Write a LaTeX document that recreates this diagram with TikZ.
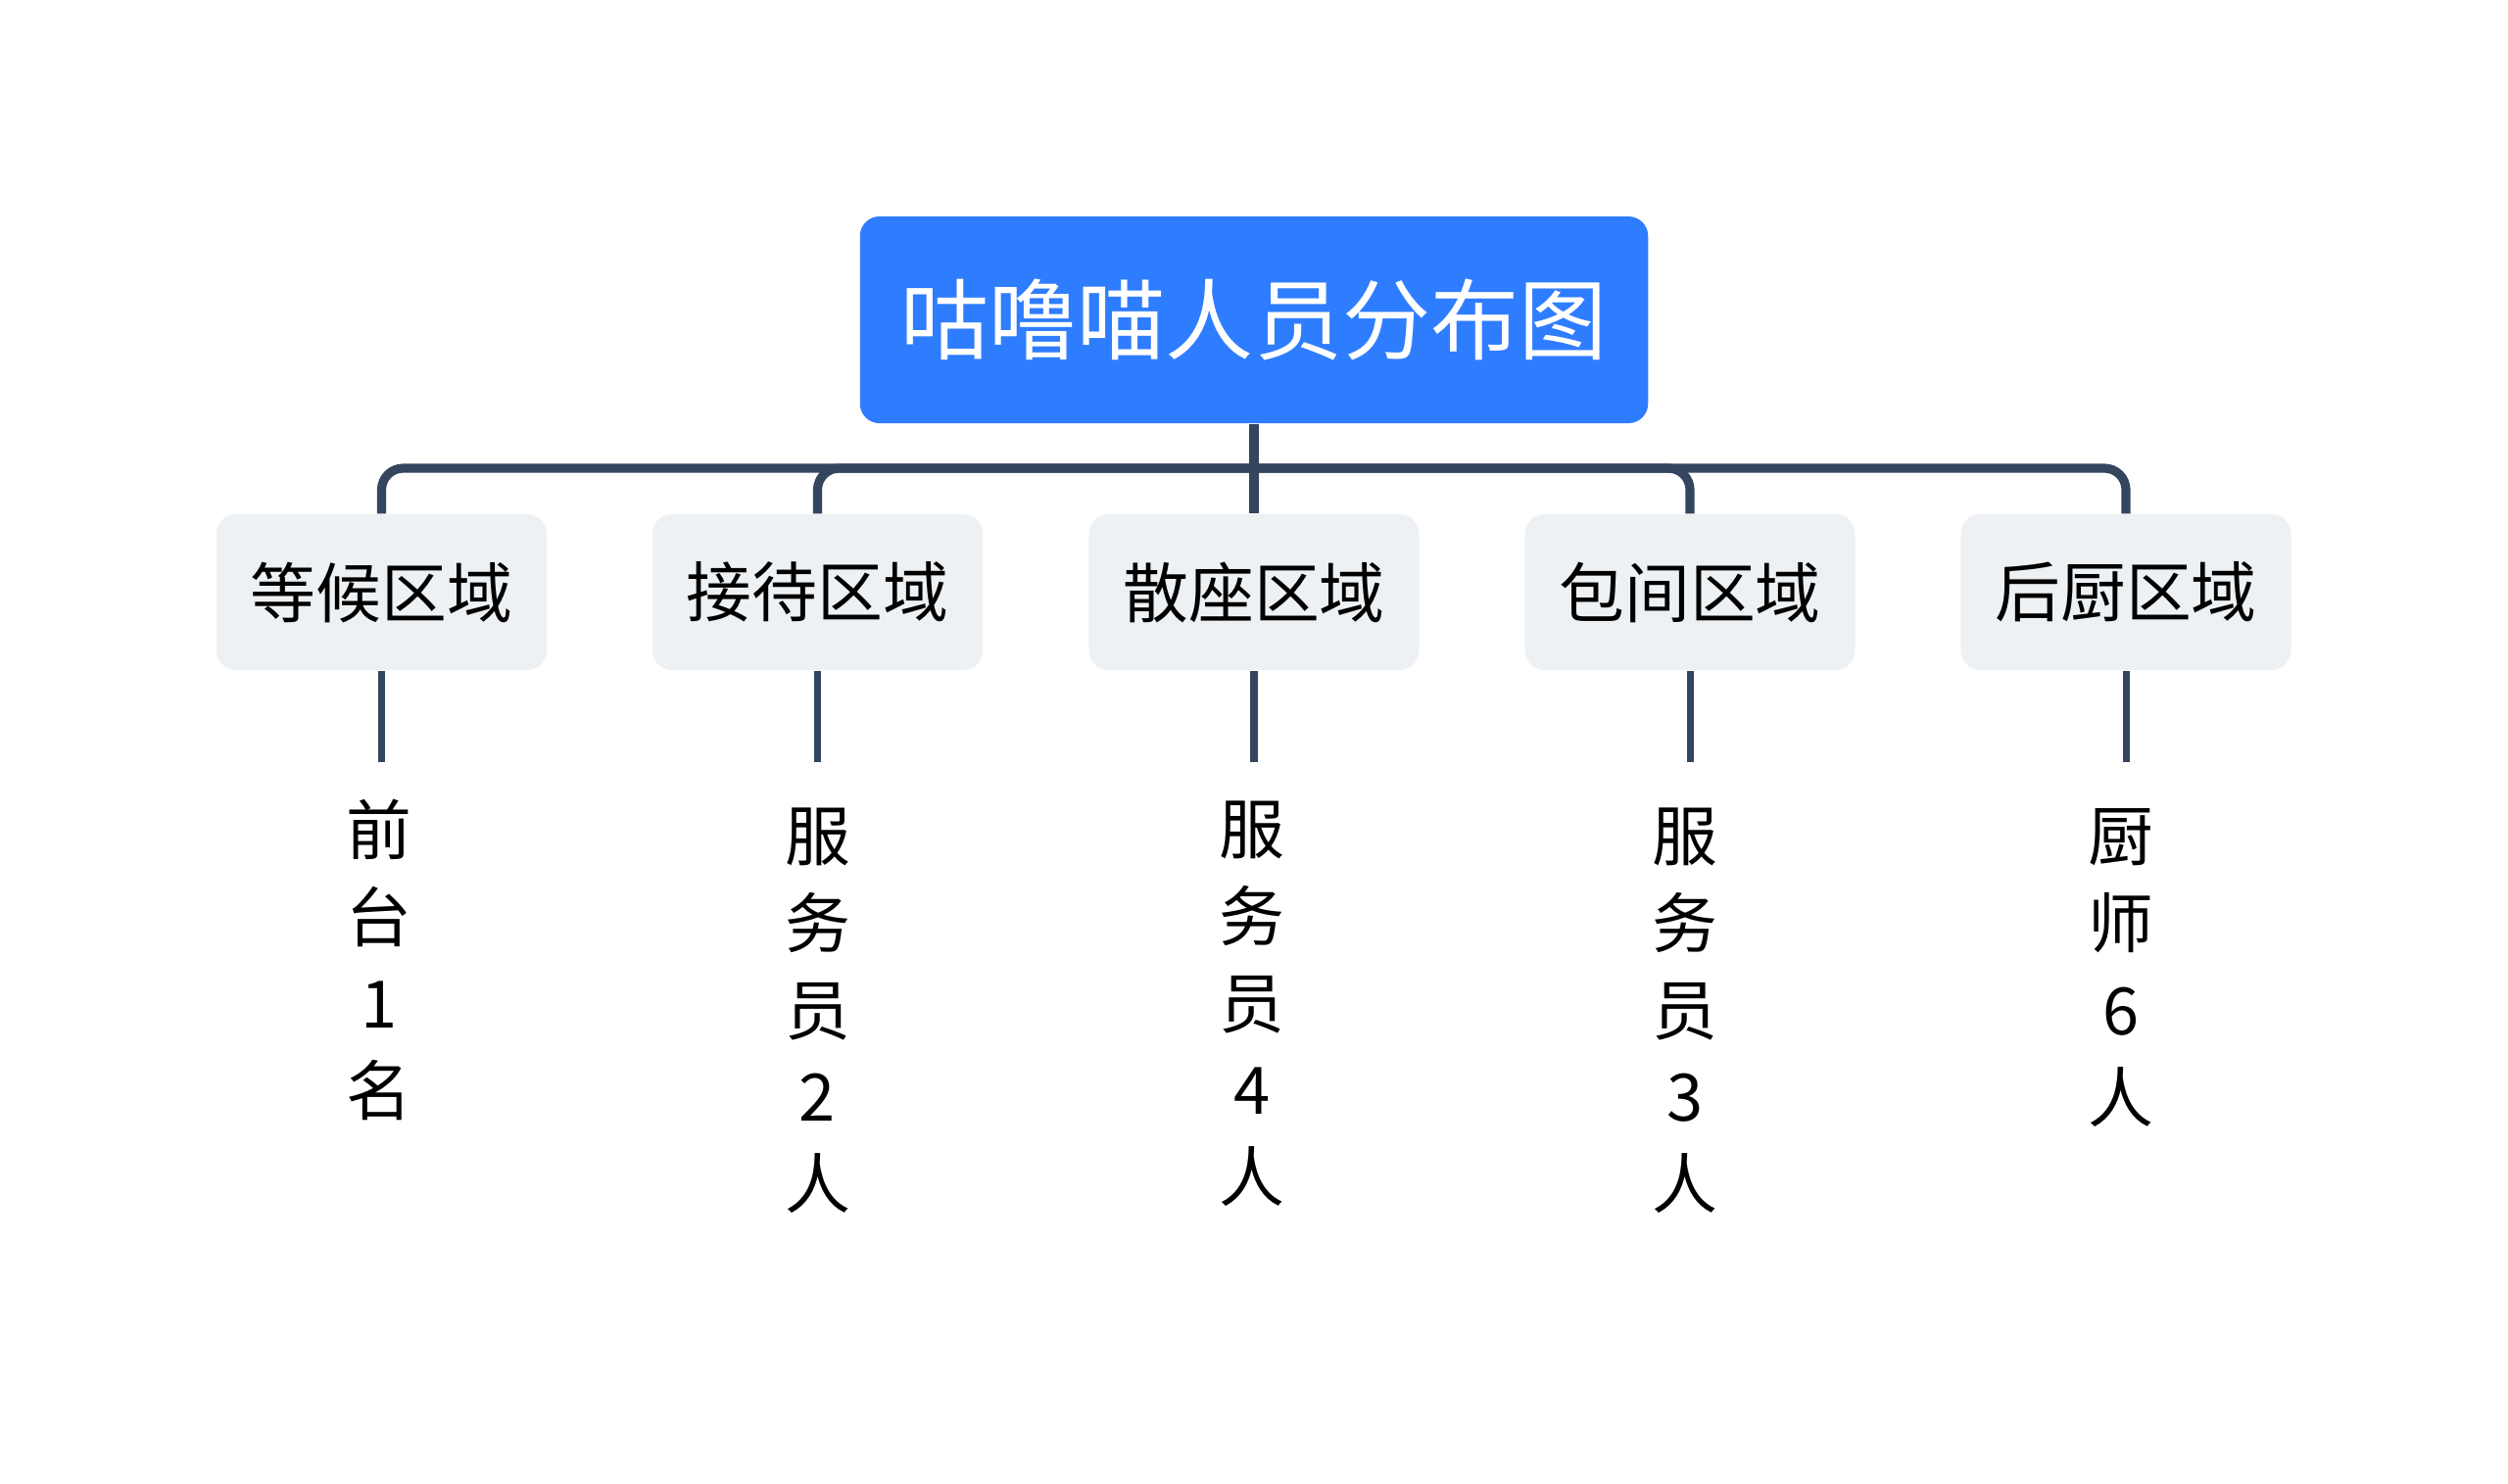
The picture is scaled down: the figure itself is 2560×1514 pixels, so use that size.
\documentclass[tikz,border=0pt]{standalone}
\usepackage{fontspec}
\setmainfont{Noto Sans CJK SC}
\definecolor{rootblue}{HTML}{2F7DFF}
\definecolor{childgray}{HTML}{EEF1F4}
\definecolor{linecol}{HTML}{34455E}
\begin{document}
\begin{tikzpicture}[x=0.01cm,y=-0.01cm,
 rootbox/.style={fill=rootblue, draw=none, rounded corners=0.2cm, minimum width=8.04cm, minimum height=2.11cm, text=white, font=\fontsize{25.6pt}{30pt}\selectfont, inner sep=0},
 childbox/.style={fill=childgray, draw=none, rounded corners=0.2cm, minimum width=3.37cm, minimum height=1.59cm, text=black, font=\fontsize{19pt}{23pt}\selectfont, inner sep=0},
 stafftext/.style={anchor=north, align=center, inner sep=0, text=black, font=\fontsize{19pt}{25.26pt}\selectfont},
 trunk/.style={draw=linecol, line width=2.6pt},
 branch/.style={draw=linecol, line width=2.6pt, rounded corners=0.22cm},
 leaf/.style={draw=linecol, line width=2pt}]
\useasboundingbox[fill=white] (0,0) rectangle (2560,1514);

\node[rootbox] (root) at (1280,326.5) {咕噜喵人员分布图};

\node[childbox] (c1) at (389.5,604.5) {等候区域};
\node[childbox] (c2) at (834.5,604.5) {接待区域};
\node[childbox] (c3) at (1280,604.5) {散座区域};
\node[childbox] (c4) at (1725,604.5) {包间区域};
\node[childbox] (c5) at (2170,604.5) {后厨区域};

\coordinate (bar) at (1280,478);
\draw[trunk] (root.south) -- (bar);
\foreach \c in {c1,c2,c3,c4,c5}{
  \draw[branch] (bar) -| (\c.north);
}

\coordinate (e1) at (389.5,778);
\coordinate (e2) at (834.5,778);
\coordinate (e3) at (1280,778);
\coordinate (e4) at (1725,778);
\coordinate (e5) at (2170,778);
\draw[leaf] (c1.south) -- (e1);
\draw[leaf] (c2.south) -- (e2);
\draw[leaf] (c3.south) -- (e3);
\draw[leaf] (c4.south) -- (e4);
\draw[leaf] (c5.south) -- (e5);

\node[stafftext] (t1) at (387,815) {前\\台\\1\\名};
\node[stafftext] (t2) at (834.5,824) {服\\务\\员\\2\\人};
\node[stafftext] (t3) at (1278,817) {服\\务\\员\\4\\人};
\node[stafftext] (t4) at (1720,824) {服\\务\\员\\3\\人};
\node[stafftext] (t5) at (2165,825) {厨\\师\\6\\人};
\end{tikzpicture}
\end{document}
